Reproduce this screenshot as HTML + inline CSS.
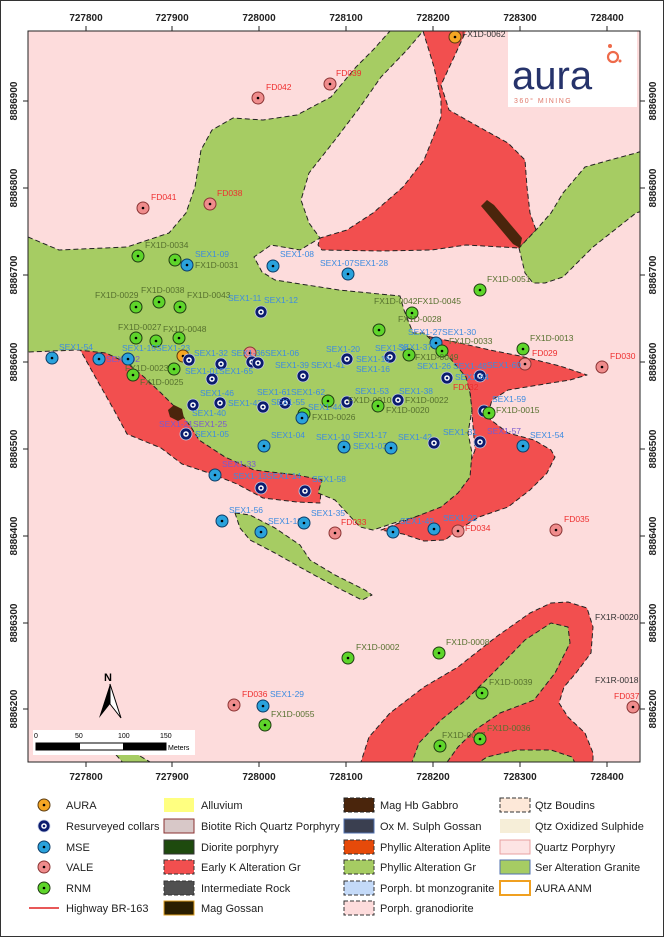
<!DOCTYPE html>
<html><head><meta charset="utf-8"><style>
html,body{margin:0;padding:0;background:#fff;}
svg{display:block;font-family:"Liberation Sans",Arial,sans-serif;}
.t{font-size:10px;font-weight:bold;fill:#222;}
.g{font-size:8.5px;fill:#56702e;}
.b{font-size:8.5px;fill:#3d8be0;}
.r{font-size:8.5px;fill:#ee2e2e;}
.k{font-size:8.5px;fill:#333;}
.lg{font-size:11px;fill:#222;}
</style></head><body>
<svg width="664" height="937" viewBox="0 0 664 937" xmlns="http://www.w3.org/2000/svg">
<defs>
<g id="rnm"><circle r="6" fill="#5ed52a" stroke="#1f3a12" stroke-width="1"/><circle r="1.3" fill="#000"/></g>
<g id="mse"><circle r="6" fill="#2aa2dc" stroke="#0d3c66" stroke-width="1"/><circle r="1.3" fill="#000"/></g>
<g id="res"><circle r="6" fill="#0b1c6e" stroke="#c8d0e8" stroke-width="0.8"/><circle r="2.8" fill="#fff"/><circle r="1.3" fill="#0b1c6e"/></g>
<g id="vale"><circle r="6" fill="#ef8c8c" stroke="#8a3434" stroke-width="1"/><circle r="1.3" fill="#000"/></g>
<g id="aura"><circle r="6" fill="#f5a623" stroke="#5a3a10" stroke-width="1"/><circle r="1.3" fill="#000"/></g>
<clipPath id="mc"><rect x="28" y="31" width="612" height="731"/></clipPath>
</defs>
<rect x="0.5" y="0.5" width="663" height="936" fill="#fff" stroke="#333"/>
<g clip-path="url(#mc)">
<rect x="28" y="31" width="612" height="731" fill="#fddcdc"/>
<g stroke="#222" stroke-width="1" stroke-dasharray="5,3" stroke-linejoin="round">
<polygon fill="#f24f4f" points="78,346 110,345 150,352 170,380 200,420 230,450 280,465 322,478 320,503 297,502 263,498 237,484 212,474 182,464 161,448 127,434 114,410 97,380"/>
<polygon fill="#f24f4f" points="413,333 435,338 460,343 490,350 520,356 560,366 587,375 570,380 551,383 508,390 492,400 487,417 508,433 534,440 551,450 555,457 547,473 530,490 508,507 479,517 458,530 445,540 424,541 403,534 381,530 420,515 460,490 475,450 470,390 440,350"/>
<polygon fill="#a6cc63" points="28,237 59,250 127,247 169,233 186,213 195,187 201,150 212,130 233,118 263,120 297,115 331,97 356,67 373,50 390,31 423,31 407,50 381,77 360,107 335,140 309,173 301,200 309,223 320,238 300,250 271,245 254,257 262,272 275,280 339,290 400,296 404,310 413,333 424,333 449,357 466,377 470,393 472,410 468,433 472,453 470,477 458,493 441,507 415,517 394,523 373,530 360,527 347,513 335,500 318,493 322,480 297,475 254,470 225,457 199,440 191,427 178,410 161,393 144,377 127,363 106,353 78,350 28,352"/>
<polygon fill="#f24f4f" points="423,31 434,67 441,100 441,117 432,140 424,160 403,187 373,213 347,230 320,238 318,245 322,250 381,251 432,250 466,245 519,248 536,230 530,213 527,187 525,160 508,143 479,127 449,110 441,85 455,55 466,31"/>
<polygon fill="#a6cc63" points="519,248 525,273 533,283 545,283 563,277 593,247 636,213 645,210 645,150 636,153 610,160 585,167 563,193 551,213 536,230"/>
<polygon fill="#a6cc63" points="235,513 250,515 275,528 300,545 310,560 335,575 365,590 372,595 362,600 338,588 305,570 275,553 250,540 240,528"/>
<polygon fill="#a6cc63" points="110,748 130,750 155,765 125,765"/>
<polygon fill="#f24f4f" points="360,765 369,737 390,713 424,687 458,667 496,637 530,613 551,603 568,602 587,608 593,627 591,653 576,673 564,687 559,703 568,717 585,733 593,753 593,765"/>
<polygon fill="#a6cc63" points="411,765 419,743 441,720 466,700 496,670 525,640 551,623 568,627 570,643 555,673 534,700 500,713 475,730 458,747 445,765"/>
<polygon fill="#a6cc63" points="475,765 487,757 517,750 551,750 572,757 576,765"/>
</g>
<polygon fill="#4a250c" points="481,206 487,200 494,205 522,238 520,248 513,244"/>
<polygon fill="#4a250c" points="168,410 174,405 182,409 184,418 178,421 170,417"/>

<rect x="508" y="31" width="129" height="76" fill="#fff"/>
<text x="512" y="89" style="font-size:40px;fill:#26336b;">aura</text>
<text x="514" y="103" style="font-size:7px;fill:#e0786a;letter-spacing:1.5px;">360° MINING</text>
<circle cx="613" cy="57" r="5" fill="none" stroke="#ee6a4a" stroke-width="2.2"/>
<circle cx="610" cy="46" r="2" fill="#ee6a4a"/><circle cx="620" cy="61" r="1.5" fill="#ee6a4a"/>

<use href="#aura" x="455" y="37"/><text class="k" x="462" y="37">FX1D-0062</text>
<use href="#vale" x="258" y="98"/><text class="r" x="266" y="90">FD042</text>
<use href="#vale" x="330" y="84"/><text class="r" x="336" y="76">FD039</text>
<use href="#vale" x="143" y="208"/><text class="r" x="151" y="200">FD041</text>
<use href="#vale" x="210" y="204"/><text class="r" x="217" y="196">FD038</text>
<use href="#rnm" x="138" y="256"/><text class="g" x="145" y="248">FX1D-0034</text>
<use href="#rnm" x="175" y="260"/><use href="#mse" x="187" y="265"/><text class="b" x="195" y="257">SEX1-09</text><text class="g" x="195" y="268">FX1D-0031</text>
<use href="#mse" x="273" y="266"/><text class="b" x="280" y="257">SEX1-08</text>
<use href="#mse" x="348" y="274"/><text class="b" x="320" y="266">SEX1-07SEX1-28</text>
<use href="#rnm" x="480" y="290"/><text class="g" x="487" y="282">FX1D-0051</text>
<use href="#rnm" x="136" y="307"/><use href="#rnm" x="159" y="302"/><use href="#rnm" x="180" y="307"/>
<text class="g" x="95" y="298">FX1D-0029</text><text class="g" x="141" y="293">FX1D-0038</text><text class="g" x="187" y="298">FX1D-0043</text>
<text class="b" x="228" y="301">SEX1-11</text><text class="b" x="264" y="303">SEX1-12</text>
<use href="#res" x="261" y="312"/>
<use href="#rnm" x="412" y="313"/><text class="g" x="374" y="304">FX1D-0042FX1D-0045</text><text class="g" x="398" y="322">FX1D-0028</text>
<use href="#rnm" x="136" y="338"/><use href="#rnm" x="156" y="341"/><use href="#rnm" x="179" y="338"/>
<text class="g" x="118" y="330">FX1D-0027</text><text class="g" x="163" y="332">FX1D-0048</text>
<use href="#rnm" x="379" y="330"/>
<use href="#mse" x="436" y="343"/><text class="b" x="408" y="335">SEX1-27SEX1-30</text>
<use href="#rnm" x="442" y="351"/><text class="g" x="449" y="344">FX1D-0033</text>
<use href="#rnm" x="523" y="349"/><text class="g" x="530" y="341">FX1D-0013</text>
<use href="#vale" x="525" y="364"/><text class="r" x="532" y="356">FD029</text>
<use href="#vale" x="602" y="367"/><text class="r" x="610" y="359">FD030</text>
<use href="#mse" x="52" y="358"/><text class="b" x="59" y="350">SEX1-54</text>
<use href="#mse" x="99" y="359"/><text class="b" x="106" y="362" style="fill:#7a5ad0">SEX1-02</text>
<use href="#mse" x="128" y="359"/><text class="b" x="122" y="351">SEX1-15SEX1-23</text>
<use href="#aura" x="183" y="356"/>
<use href="#res" x="189" y="360"/><text class="b" x="194" y="356">SEX1-32</text>
<use href="#vale" x="250" y="353"/><use href="#res" x="252" y="362"/><use href="#res" x="258" y="363"/><text class="b" x="231" y="356">SEX1-36SEX1-06</text>
<use href="#res" x="221" y="364"/>
<use href="#rnm" x="174" y="369"/><text class="g" x="125" y="371">FX1D-0023</text>
<use href="#rnm" x="133" y="375"/><text class="g" x="140" y="385">FX1D-0025</text>
<use href="#res" x="212" y="379"/><text class="b" x="185" y="374">SEX1-01SEX1-65</text>
<use href="#res" x="303" y="376"/><text class="b" x="275" y="368">SEX1-39</text><text class="b" x="311" y="368">SEX1-41</text>
<use href="#res" x="347" y="359"/><text class="b" x="326" y="352">SEX1-20</text>
<use href="#res" x="390" y="357"/><text class="b" x="375" y="351">SEX1-34</text><text class="b" x="356" y="362">SEX1-19</text><text class="b" x="356" y="372">SEX1-16</text>
<use href="#rnm" x="409" y="355"/><text class="b" x="398" y="350">SEX1-37</text><text class="g" x="415" y="360">FX1D-0049</text>
<use href="#res" x="447" y="378"/><text class="b" x="417" y="369">SEX1-26</text><text class="b" x="453" y="369">SEX1-48</text>
<use href="#res" x="480" y="376"/><text class="b" x="455" y="380">SEX1-64</text>
<text class="b" x="487" y="368">SEX1-60</text>
<text class="r" x="453" y="390">FD032</text>
<use href="#res" x="193" y="405"/><text class="b" x="200" y="396">SEX1-46</text>
<use href="#res" x="220" y="403"/><text class="b" x="228" y="406">SEX1-43</text>
<use href="#res" x="263" y="407"/><text class="b" x="257" y="395">SEX1-61SEX1-62</text>
<use href="#res" x="285" y="403"/><text class="b" x="271" y="405">SEX1-55</text>
<use href="#rnm" x="328" y="401"/><text class="b" x="308" y="410">SEX1-44</text>
<use href="#res" x="347" y="402"/><text class="g" x="348" y="403">FX1D-0010</text>
<use href="#rnm" x="378" y="406"/><text class="g" x="386" y="413">FX1D-0020</text>
<use href="#res" x="398" y="400"/><text class="b" x="355" y="394">SEX1-53</text><text class="b" x="399" y="394">SEX1-38</text><text class="g" x="405" y="403">FX1D-0022</text>
<use href="#rnm" x="304" y="414"/><use href="#mse" x="302" y="418"/><text class="g" x="312" y="420">FX1D-0026</text>
<use href="#res" x="484" y="411"/><use href="#rnm" x="489" y="413"/><text class="b" x="492" y="402">SEX1-59</text><text class="g" x="496" y="413">FX1D-0015</text>
<text class="b" x="192" y="416">SEX1-40</text>
<text class="b" x="159" y="427" style="fill:#7a5ad0">SEX1-21SEX1-25</text>
<use href="#res" x="186" y="434"/><text class="b" x="195" y="437">SEX1-05</text>
<use href="#mse" x="264" y="446"/><text class="b" x="271" y="438">SEX1-04</text>
<use href="#mse" x="344" y="447"/><text class="b" x="316" y="440">SEX1-10</text><text class="b" x="353" y="438">SEX1-17</text><text class="b" x="353" y="449">SEX1-03</text>
<use href="#mse" x="391" y="448"/><text class="b" x="398" y="440">SEX1-42</text>
<use href="#res" x="434" y="443"/><text class="b" x="443" y="435">SEX1-31</text>
<use href="#res" x="480" y="442"/><text class="b" x="487" y="434" style="fill:#7a5ad0">SEX1-57</text>
<use href="#mse" x="523" y="446"/><text class="b" x="530" y="438">SEX1-54</text>
<use href="#mse" x="215" y="475"/><text class="b" x="222" y="467" style="fill:#7a5ad0">SEX1-33</text>
<use href="#res" x="261" y="488"/><text class="b" x="233" y="479">SEX1-13SEX1-14</text>
<use href="#res" x="305" y="491"/><text class="b" x="312" y="482">SEX1-58</text>
<use href="#mse" x="222" y="521"/><text class="b" x="229" y="513">SEX1-56</text>
<use href="#mse" x="261" y="532"/><text class="b" x="268" y="524">SEX1-18</text>
<use href="#mse" x="304" y="523"/><text class="b" x="311" y="516">SEX1-35</text>
<use href="#vale" x="335" y="533"/><text class="r" x="341" y="525">FD033</text>
<use href="#mse" x="393" y="532"/><text class="b" x="400" y="524">SEX1-49</text>
<use href="#mse" x="434" y="529"/><text class="b" x="443" y="521">SEX1-22</text>
<use href="#vale" x="458" y="531"/><text class="r" x="465" y="531">FD034</text>
<use href="#vale" x="556" y="530"/><text class="r" x="564" y="522">FD035</text>
<use href="#rnm" x="348" y="658"/><text class="g" x="356" y="650">FX1D-0002</text>
<use href="#rnm" x="439" y="653"/><text class="g" x="446" y="645">FX1D-0008</text>
<use href="#rnm" x="482" y="693"/><text class="g" x="489" y="685">FX1D-0039</text>
<use href="#vale" x="234" y="705"/><text class="r" x="242" y="697">FD036</text>
<use href="#mse" x="263" y="706"/><text class="b" x="270" y="697">SEX1-29</text>
<use href="#rnm" x="265" y="725"/><text class="g" x="271" y="717">FX1D-0055</text>
<use href="#vale" x="633" y="707"/><text class="r" x="614" y="699">FD037</text>
<text class="k" x="595" y="620">FX1R-0020</text><text class="k" x="595" y="683">FX1R-0018</text>
<use href="#rnm" x="440" y="746"/><text class="g" x="442" y="738">FX1D-0007</text>
<use href="#rnm" x="480" y="739"/><text class="g" x="487" y="731">FX1D-0036</text>

<text x="104" y="681" style="font-size:11px;font-weight:bold;">N</text>
<polygon points="110,684 99,718 110,704" fill="#000"/>
<polygon points="110,684 121,718 110,704" fill="#fff" stroke="#000" stroke-width="1"/>
<rect x="33" y="730" width="162" height="25" fill="#fff"/>
<text x="34" y="738" style="font-size:7px">0</text><text x="75" y="738" style="font-size:7px">50</text><text x="118" y="738" style="font-size:7px">100</text><text x="160" y="738" style="font-size:7px">150</text>
<rect x="36" y="743" width="130" height="7" fill="#fff" stroke="#000" stroke-width="1"/>
<rect x="36" y="743" width="44" height="7" fill="#000"/><rect x="123" y="743" width="43" height="7" fill="#000"/>
<text x="168" y="750" style="font-size:7px">Meters</text>
</g>
<rect x="28" y="31" width="612" height="731" fill="none" stroke="#222" stroke-width="1"/>

<g stroke="#222" stroke-width="1">
<line x1="86" y1="26" x2="86" y2="31"/><line x1="172" y1="26" x2="172" y2="31"/><line x1="259" y1="26" x2="259" y2="31"/><line x1="346" y1="26" x2="346" y2="31"/><line x1="433" y1="26" x2="433" y2="31"/><line x1="520" y1="26" x2="520" y2="31"/><line x1="607" y1="26" x2="607" y2="31"/>
<line x1="86" y1="762" x2="86" y2="767"/><line x1="172" y1="762" x2="172" y2="767"/><line x1="259" y1="762" x2="259" y2="767"/><line x1="346" y1="762" x2="346" y2="767"/><line x1="433" y1="762" x2="433" y2="767"/><line x1="520" y1="762" x2="520" y2="767"/><line x1="607" y1="762" x2="607" y2="767"/>
<line x1="23" y1="101" x2="28" y2="101"/><line x1="23" y1="188" x2="28" y2="188"/><line x1="23" y1="275" x2="28" y2="275"/><line x1="23" y1="362" x2="28" y2="362"/><line x1="23" y1="449" x2="28" y2="449"/><line x1="23" y1="536" x2="28" y2="536"/><line x1="23" y1="623" x2="28" y2="623"/><line x1="23" y1="709" x2="28" y2="709"/>
<line x1="640" y1="101" x2="645" y2="101"/><line x1="640" y1="188" x2="645" y2="188"/><line x1="640" y1="275" x2="645" y2="275"/><line x1="640" y1="362" x2="645" y2="362"/><line x1="640" y1="449" x2="645" y2="449"/><line x1="640" y1="536" x2="645" y2="536"/><line x1="640" y1="623" x2="645" y2="623"/><line x1="640" y1="709" x2="645" y2="709"/>
</g>
<g class="t" text-anchor="middle" style="font-size:10px;font-weight:bold;">
<text x="86" y="21">727800</text><text x="172" y="21">727900</text><text x="259" y="21">728000</text><text x="346" y="21">728100</text><text x="433" y="21">728200</text><text x="520" y="21">728300</text><text x="607" y="21">728400</text>
<text x="86" y="780">727800</text><text x="172" y="780">727900</text><text x="259" y="780">728000</text><text x="346" y="780">728100</text><text x="433" y="780">728200</text><text x="520" y="780">728300</text><text x="607" y="780">728400</text>
<text transform="translate(17,101) rotate(-90)">8886900</text><text transform="translate(17,188) rotate(-90)">8886800</text><text transform="translate(17,275) rotate(-90)">8886700</text><text transform="translate(17,362) rotate(-90)">8886600</text><text transform="translate(17,449) rotate(-90)">8886500</text><text transform="translate(17,536) rotate(-90)">8886400</text><text transform="translate(17,623) rotate(-90)">8886300</text><text transform="translate(17,709) rotate(-90)">8886200</text>
<text transform="translate(656,101) rotate(-90)">8886900</text><text transform="translate(656,188) rotate(-90)">8886800</text><text transform="translate(656,275) rotate(-90)">8886700</text><text transform="translate(656,362) rotate(-90)">8886600</text><text transform="translate(656,449) rotate(-90)">8886500</text><text transform="translate(656,536) rotate(-90)">8886400</text><text transform="translate(656,623) rotate(-90)">8886300</text><text transform="translate(656,709) rotate(-90)">8886200</text>
</g>

<use href="#aura" x="44" y="805"/><text class="lg" x="66" y="809">AURA</text>
<use href="#res" x="44" y="826"/><text class="lg" x="66" y="830">Resurveyed collars</text>
<use href="#mse" x="44" y="847"/><text class="lg" x="66" y="851">MSE</text>
<use href="#vale" x="44" y="867"/><text class="lg" x="66" y="871">VALE</text>
<use href="#rnm" x="44" y="888"/><text class="lg" x="66" y="892">RNM</text>
<line x1="29" y1="908" x2="59" y2="908" stroke="#e02020" stroke-width="1.5"/><text class="lg" x="66" y="912">Highway BR-163</text>

<g stroke-width="1">
<rect x="164" y="798" width="30" height="14" fill="#ffff80"/>
<rect x="164" y="819" width="30" height="14" fill="#d8c8c8" stroke="#8a3030"/>
<rect x="164" y="840" width="30" height="14" fill="#1e4a0e" stroke="#333"/>
<rect x="164" y="860" width="30" height="14" fill="#f24f4f" stroke="#333" stroke-dasharray="4,2"/>
<rect x="164" y="881" width="30" height="14" fill="#505050" stroke="#333" stroke-dasharray="4,2"/>
<rect x="164" y="901" width="30" height="14" fill="#2a1e00" stroke="#e0a020"/>
<rect x="344" y="798" width="30" height="14" fill="#4a250c" stroke="#222" stroke-dasharray="4,2"/>
<rect x="344" y="819" width="30" height="14" fill="#3a3f50" stroke="#5070b0"/>
<rect x="344" y="840" width="30" height="14" fill="#e64a0a" stroke="#333" stroke-dasharray="4,2"/>
<rect x="344" y="860" width="30" height="14" fill="#a6cc63" stroke="#333" stroke-dasharray="4,2"/>
<rect x="344" y="881" width="30" height="14" fill="#c4daf8" stroke="#333" stroke-dasharray="4,2"/>
<rect x="344" y="901" width="30" height="14" fill="#fddcdc" stroke="#333" stroke-dasharray="4,2"/>
<rect x="500" y="798" width="30" height="14" fill="#fde8d8" stroke="#333" stroke-dasharray="4,2"/>
<rect x="500" y="819" width="30" height="14" fill="#f6eed8"/>
<rect x="500" y="840" width="30" height="14" fill="#fde4e4" stroke="#e8a0a0"/>
<rect x="500" y="860" width="30" height="14" fill="#a6cc63" stroke="#5070b0"/>
<rect x="500" y="881" width="30" height="14" fill="#fff" stroke="#f0a020" stroke-width="2"/>
</g>
<text class="lg" x="201" y="809">Alluvium</text>
<text class="lg" x="201" y="830">Biotite Rich Quartz Porphyry</text>
<text class="lg" x="201" y="851">Diorite porphyry</text>
<text class="lg" x="201" y="871">Early K Alteration Gr</text>
<text class="lg" x="201" y="892">Intermediate Rock</text>
<text class="lg" x="201" y="912">Mag Gossan</text>
<text class="lg" x="380" y="809">Mag Hb Gabbro</text>
<text class="lg" x="380" y="830">Ox M. Sulph Gossan</text>
<text class="lg" x="380" y="851">Phyllic Alteration Aplite</text>
<text class="lg" x="380" y="871">Phyllic Alteration Gr</text>
<text class="lg" x="380" y="892">Porph. bt monzogranite</text>
<text class="lg" x="380" y="912">Porph. granodiorite</text>
<text class="lg" x="535" y="809">Qtz Boudins</text>
<text class="lg" x="535" y="830">Qtz Oxidized Sulphide</text>
<text class="lg" x="535" y="851">Quartz Porphyry</text>
<text class="lg" x="535" y="871">Ser Alteration Granite</text>
<text class="lg" x="535" y="892">AURA ANM</text>
</svg>
</body></html>
